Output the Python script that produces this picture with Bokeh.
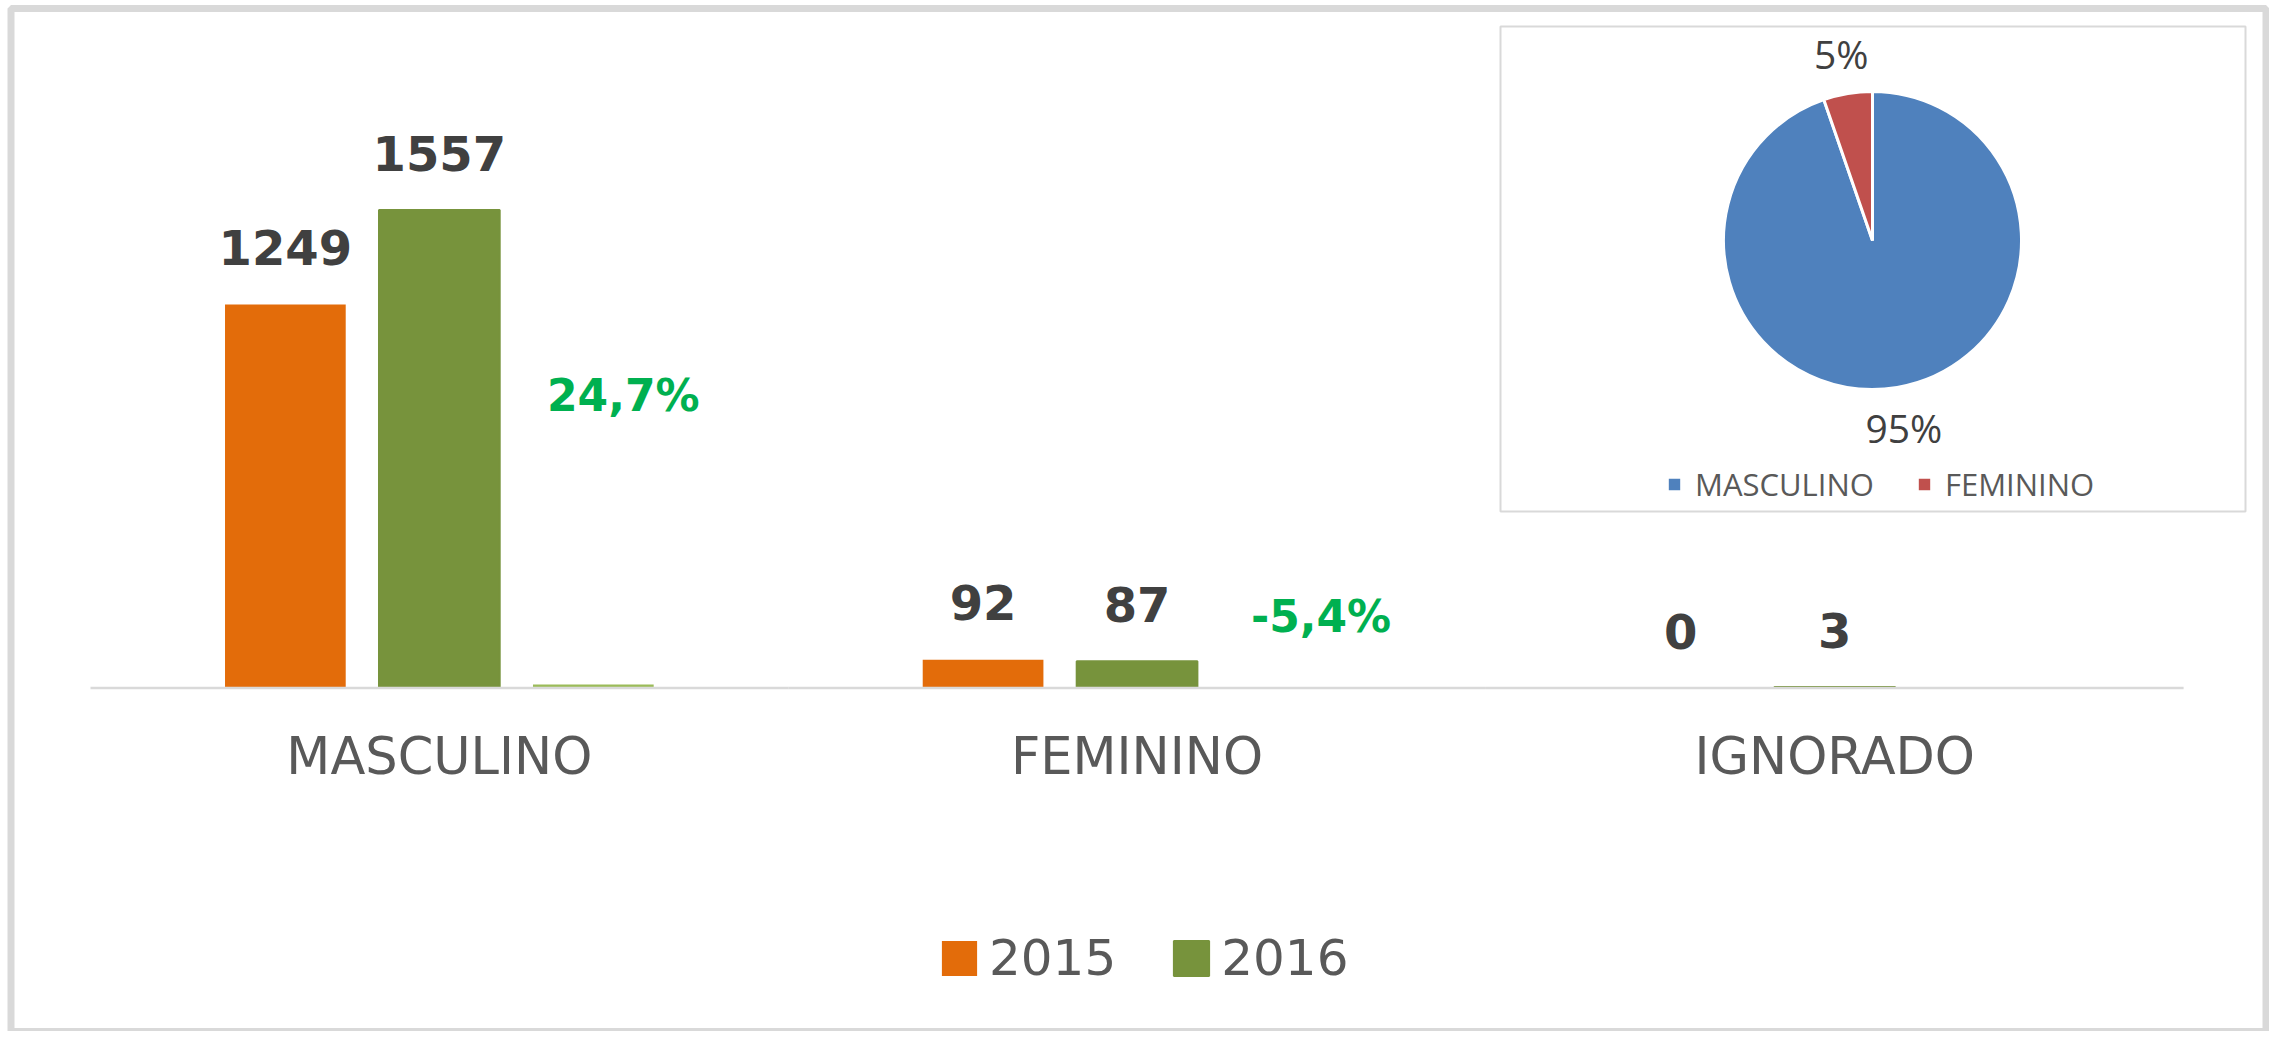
import math
from bokeh.plotting import figure
from bokeh.models import Range1d, ColumnDataSource, Legend, LegendItem
from bokeh.transform import dodge
from bokeh.core.properties import value
from bokeh.embed import file_html
from bokeh.resources import INLINE

# ---------------- data ----------------
categories = ["MASCULINO", "FEMININO", "IGNORADO"]
years = ["2015", "2016"]
values_2015 = [1249, 92, 0]
values_2016 = [1557, 87, 3]
variation_pct = [24.7, -5.4, float("nan")]
variation_text = ["24,7%", "-5,4%", ""]

pie_categories = ["MASCULINO", "FEMININO"]
pie_values = [1557, 87]

# ---------------- layout constants ----------------
W, H = 2269, 1031
CAT_W = 697.7            # px per category
LEFT_PAD = 90            # px from canvas left to first category
BASE = 343.5             # px from canvas bottom to the zero line
PX_PER_COUNT = 0.307
PX_PER_PCT = 0.142
BAR_W = 0.173
OFF = 0.2207

ORANGE = "#E36C0A"
GREEN = "#77933C"
LIGHT_GREEN = "#9BBB59"
PCT_GREEN = "#00B050"
BLUE = "#4F81BD"
RED = "#C0504D"
FRAME = "#D9D9D9"

p = figure(width=W, height=H, output_backend="svg", toolbar_location=None,
           x_range=Range1d(-LEFT_PAD / CAT_W, (W - LEFT_PAD) / CAT_W),
           y_range=Range1d(-BASE / PX_PER_COUNT, (H - BASE) / PX_PER_COUNT),
           x_axis_location=None, y_axis_location=None, min_border=0)
p.title.visible = False
p.grid.visible = False
p.outline_line_color = None
p.background_fill_color = "white"
p.border_fill_color = "white"
p.extra_x_ranges = {"px": Range1d(0, W)}
p.extra_y_ranges = {"px": Range1d(0, H),
                    "var": Range1d(-BASE / PX_PER_PCT, (H - BASE) / PX_PER_PCT)}

xc = [i + 0.5 for i in range(len(categories))]
src = ColumnDataSource(dict(
    xc=xc, cat=categories,
    v2015=values_2015, v2016=values_2016, var=variation_pct,
    l2015=[str(v) for v in values_2015], l2016=[str(v) for v in values_2016],
    vtext=variation_text,
    vlab_y=[954, 233, float("nan")],
))

# outer frame and pie box (decoration, in canvas pixels)
p.quad(left=10.5, right=W - 3.5, top=H - 8, bottom=0, fill_color=None,
       line_color=FRAME, line_width=7, x_range_name="px", y_range_name="px")
p.quad(left=1500, right=2245, top=1005, bottom=520, fill_color="white",
       line_color=FRAME, line_width=2, x_range_name="px", y_range_name="px")

# bars
r15 = p.vbar(x=dodge("xc", -OFF, range=p.x_range), top="v2015", width=BAR_W,
             source=src, fill_color=ORANGE, line_color=None)
r16 = p.vbar(x=dodge("xc", 0, range=p.x_range), top="v2016", width=BAR_W,
             source=src, fill_color=GREEN, line_color=GREEN, line_width=2)
p.vbar(x=dodge("xc", OFF, range=p.x_range), top="var", width=BAR_W,
       source=src, fill_color=LIGHT_GREEN, line_color=None, y_range_name="var")

# zero line
p.segment(x0=dodge("xc", -0.5, range=p.x_range), x1=dodge("xc", 0.5, range=p.x_range),
          y0=0, y1=0, source=src, line_color=FRAME, line_width=2.5)

# data labels
for col, lab, dx in (("v2015", "l2015", -OFF), ("v2016", "l2016", 0)):
    p.text(x=dodge("xc", dx, range=p.x_range), y=col, text=lab, source=src,
           text_align="center", text_baseline="middle", y_offset=-57,
           text_font=value("DejaVu Sans"), text_font_style="bold",
           text_font_size="48px", text_color="#404040")

p.text(x=dodge("xc", OFF, range=p.x_range), y="vlab_y", text="vtext", source=src,
       text_align="center", text_baseline="middle", x_offset=30,
       text_font=value("DejaVu Sans"), text_font_style="bold",
       text_font_size="44px", text_color=PCT_GREEN)

# category labels
p.text(x="xc", y=0, text="cat", source=src, text_align="center",
       text_baseline="middle", y_offset=68,
       text_font=value("DejaVu Sans"), text_font_size="51px", text_color="#595959")

legend = Legend(items=[LegendItem(label=years[0], renderers=[r15]),
                       LegendItem(label=years[1], renderers=[r16])],
                location=(937, 44), orientation="horizontal",
                glyph_width=44, glyph_height=44, label_standoff=8, spacing=53,
                padding=0, margin=0, border_line_color=None,
                background_fill_alpha=0,
                label_text_font="DejaVu Sans", label_text_font_size="50px",
                label_text_color="#595959")
p.add_layout(legend)

# ---------------- pie ----------------
PIE_X, PIE_Y, PIE_R = 1872, 791, 149
total = sum(pie_values)
starts, ends, mids = [], [], []
cw = 0.0
for v in pie_values:
    a0 = cw
    cw += 360.0 * v / total
    starts.append(math.radians(90 - a0))
    ends.append(math.radians(90 - cw))
    mids.append(math.radians(90 - (a0 + cw) / 2))
lab_r = 1.27 * PIE_R
pie_src = ColumnDataSource(dict(
    start=starts, end=ends, color=[BLUE, RED], cat=pie_categories,
    lx=[PIE_X + lab_r * math.cos(m) for m in mids],
    ly=[PIE_Y + lab_r * math.sin(m) for m in mids],
    pct=[f"{round(100 * v / total)}%" for v in pie_values],
))
w = p.wedge(x=PIE_X, y=PIE_Y, radius=PIE_R, radius_units="screen",
            start_angle="start", end_angle="end", direction="clock",
            fill_color="color", line_color="white", line_width=3,
            source=pie_src, x_range_name="px", y_range_name="px")
p.text(x="lx", y="ly", text="pct", source=pie_src, x_range_name="px", y_range_name="px",
       text_align="center", text_baseline="middle",
       text_font=value("Open Sans"), text_font_size="39px", text_color="#404040")

pie_legend = Legend(items=[LegendItem(label=pie_categories[0], renderers=[w], index=0),
                           LegendItem(label=pie_categories[1], renderers=[w], index=1)],
                    location=(1665, 526), orientation="horizontal",
                    glyph_width=18, glyph_height=18, label_standoff=12, spacing=41,
                    padding=0, margin=0, border_line_color=None,
                    background_fill_alpha=0,
                    label_text_font="Open Sans", label_text_font_size="31px",
                    label_text_color="#595959")
p.add_layout(pie_legend)

open("out.html", "w").write(file_html(p, INLINE))
